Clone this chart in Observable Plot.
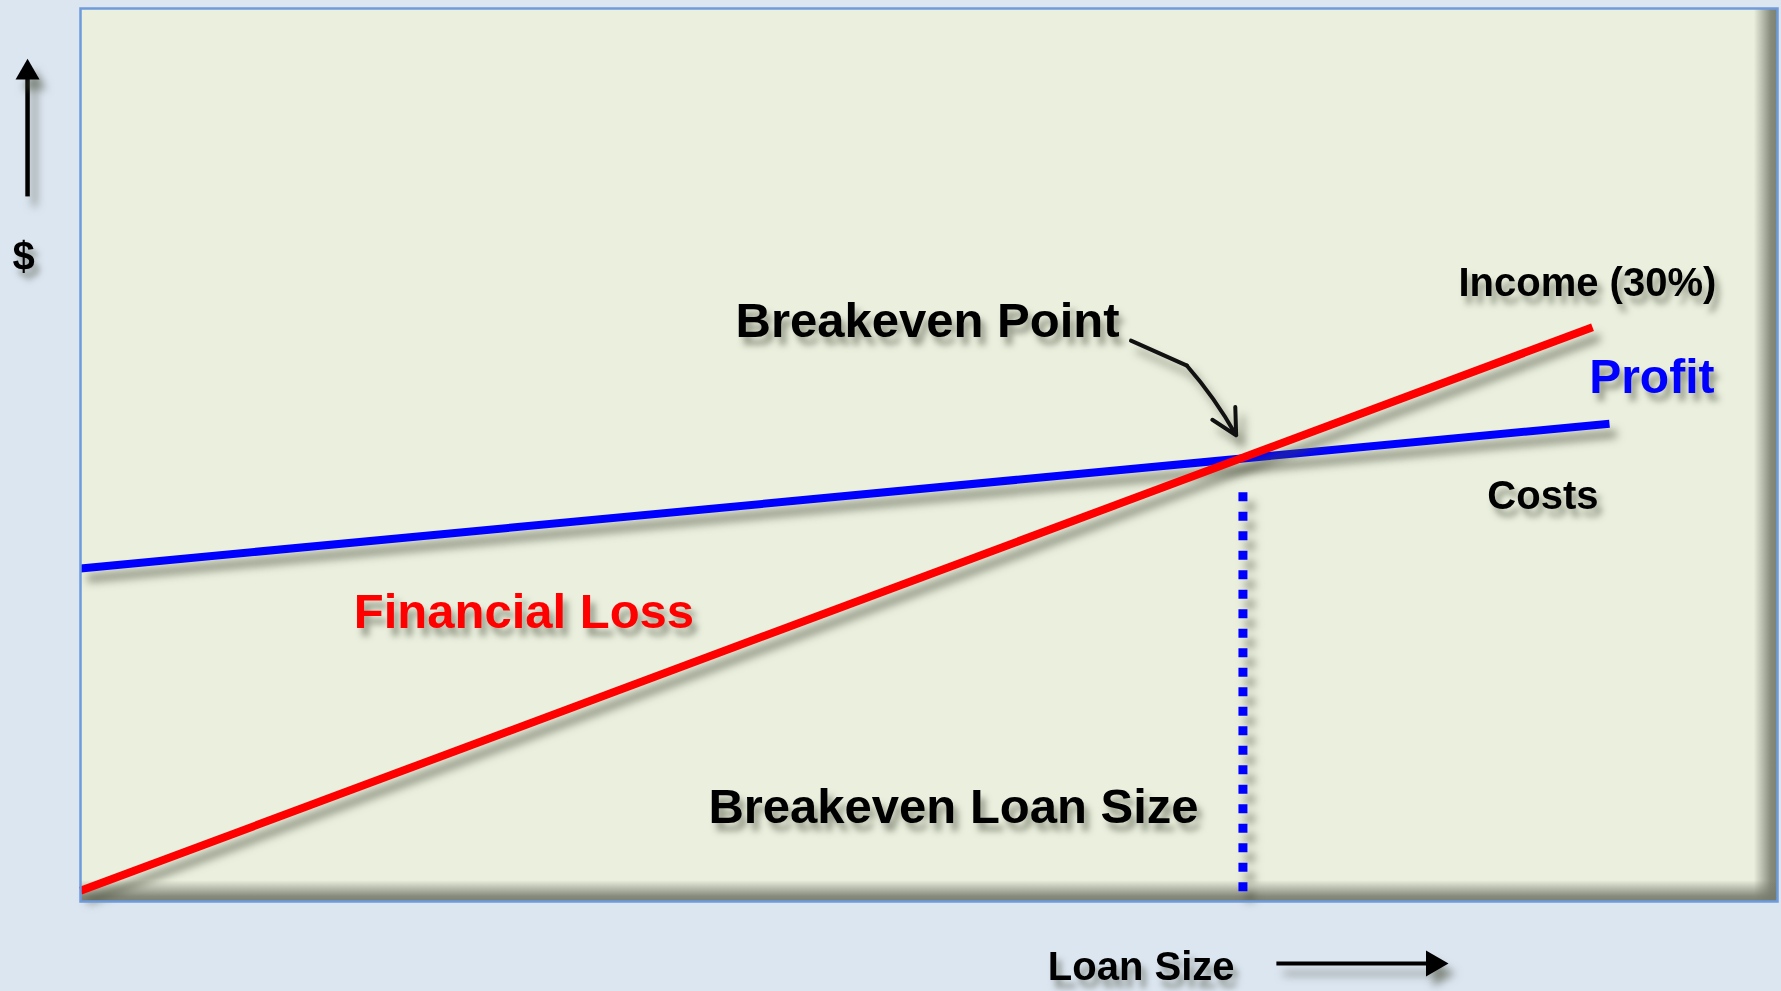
<!DOCTYPE html>
<html>
<head>
<meta charset="utf-8">
<script src="https://cdn.jsdelivr.net/npm/d3@7"></script>
<script src="https://cdn.jsdelivr.net/npm/@observablehq/plot@0.6"></script>
<style>
  html, body { margin: 0; padding: 0; background: #dce6f1; overflow: hidden; }
  #chart svg { display: block; }
</style>
</head>
<body>
<div id="chart"></div>
<script>
// ---- data (x = loan size, y = $, arbitrary units 0..100) ----
const incomeX = [0, 89.1];
const incomeY = [1.2, 64.3];
const costX = [0, 90.1];
const costY = [37.3, 53.5];
const breakevenX = [68.5];
const breakevenDropY = [1.1, 45.8];

// ---- annotation texts and anchors (data units) ----
const labelTexts = ["Breakeven Point", "Income (30%)", "Profit", "Costs", "Financial Loss", "Breakeven Loan Size", "Loan Size", "$"];
const labelX = [38.6, 81.2, 88.9, 82.9, 16.1, 37.0, 57.0, -4.0];
const labelY = [63.2, 67.8, 56.9, 44.0, 30.6, 8.8, -8.8, 70.7];
const pointerX = [61.9, 65.2, 68.1];
const pointerY = [62.8, 60.0, 52.2];
const yArrowX = [-3.12];
const yArrowY = [78.9, 92.83];
const xArrowX = [70.5, 79.73];
const xArrowY = [-6.94];

const income = incomeX.map((x, i) => ({x, y: incomeY[i]}));
const cost = costX.map((x, i) => ({x, y: costY[i]}));
const labels = labelTexts.map((text, i) => ({text, x: labelX[i], y: labelY[i]}));
const pointer = pointerX.map((x, i) => ({x, y: pointerY[i]}));

const RED = "#ff0000", BLUE = "#0000ff", FONT = "'Liberation Sans', Arial, sans-serif";
const textMark = (i, size, color) => Plot.text([labels[i]], {
  x: "x", y: "y", text: "text", textAnchor: "start", lineAnchor: "bottom",
  fontSize: size, fontWeight: "bold", fontFamily: FONT, fill: color
});

const svg = Plot.plot({
  width: 1781, height: 991,
  marginTop: 8, marginRight: 4, marginBottom: 90, marginLeft: 80,
  x: {domain: [0, 100], axis: null},
  y: {domain: [0, 100], axis: null},
  style: {background: "transparent", overflow: "visible"},
  marks: [
    Plot.frame({fill: "#eaefde"}),
    Plot.frame({fill: "url(#innerRight)"}),
    Plot.frame({fill: "url(#innerBottom)"}),
    Plot.ruleX(breakevenX, {x: d => d, y1: breakevenDropY[0], y2: breakevenDropY[1], stroke: BLUE, strokeWidth: 9, strokeDasharray: "9,10.5"}),
    Plot.line(cost, {x: "x", y: "y", stroke: BLUE, strokeWidth: 8, strokeLinecap: "butt"}),
    Plot.line(income, {x: "x", y: "y", stroke: RED, strokeWidth: 8, strokeLinecap: "butt"}),
    Plot.line(pointer.slice(0, 2), {x: "x", y: "y", stroke: "#111", strokeWidth: 4}),
    Plot.arrow([pointer], {x1: d => d[1].x, y1: d => d[1].y, x2: d => d[2].x, y2: d => d[2].y, stroke: "#111", strokeWidth: 4, headLength: 22, headAngle: 55, bend: 6}),
    Plot.ruleX(yArrowX, {x: d => d, y1: yArrowY[0], y2: yArrowY[1], stroke: "#000", strokeWidth: 4.5}),
    Plot.dot(yArrowX, {x: d => d, y: yArrowY[1], symbol: "triangle", r: 8.91, fill: "#000", stroke: "none"}),
    Plot.ruleY(xArrowY, {y: d => d, x1: xArrowX[0], x2: xArrowX[1], stroke: "#000", strokeWidth: 4}),
    Plot.dot(xArrowY, {x: xArrowX[1], y: d => d, symbol: "triangle", rotate: 90, r: 9.65, fill: "#000", stroke: "none"}),
    textMark(0, 49, "#000"),
    textMark(1, 40, "#000"),
    textMark(2, 48, BLUE),
    textMark(3, 40, "#000"),
    textMark(4, 49, RED),
    textMark(5, 49, "#000"),
    textMark(6, 40, "#000"),
    textMark(7, 40, "#000"),
    Plot.frame({stroke: "#6d9bdb", strokeWidth: 2.5})
  ]
});

// gradients for the inner shadow of the plot frame
const defs = d3.select(svg).insert("defs", ":first-child");
const gR = defs.append("linearGradient").attr("id", "innerRight").attr("x1", 0).attr("x2", 1).attr("y1", 0).attr("y2", 0);
gR.append("stop").attr("offset", 0.986).attr("stop-color", "#767a6c").attr("stop-opacity", 0);
gR.append("stop").attr("offset", 0.996).attr("stop-color", "#767a6c").attr("stop-opacity", 0.85);
gR.append("stop").attr("offset", 1).attr("stop-color", "#767a6c").attr("stop-opacity", 0.95);
const gB = defs.append("linearGradient").attr("id", "innerBottom").attr("x1", 0).attr("x2", 0).attr("y1", 0).attr("y2", 1);
gB.append("stop").attr("offset", 0.976).attr("stop-color", "#767a6c").attr("stop-opacity", 0);
gB.append("stop").attr("offset", 0.994).attr("stop-color", "#767a6c").attr("stop-opacity", 0.85);
gB.append("stop").attr("offset", 1).attr("stop-color", "#767a6c").attr("stop-opacity", 0.95);

// drop shadows like the original
const s = d3.select(svg);
s.selectAll('g[aria-label="line"], g[aria-label="rule"], g[aria-label="arrow"], g[aria-label="dot"]')
  .style("filter", "drop-shadow(7px 10px 4px rgba(70,75,55,0.55))");
s.selectAll('g[aria-label="text"]')
  .style("filter", "drop-shadow(5px 8px 3px rgba(70,75,55,0.5))");

document.getElementById("chart").append(svg);
</script>
</body>
</html>
